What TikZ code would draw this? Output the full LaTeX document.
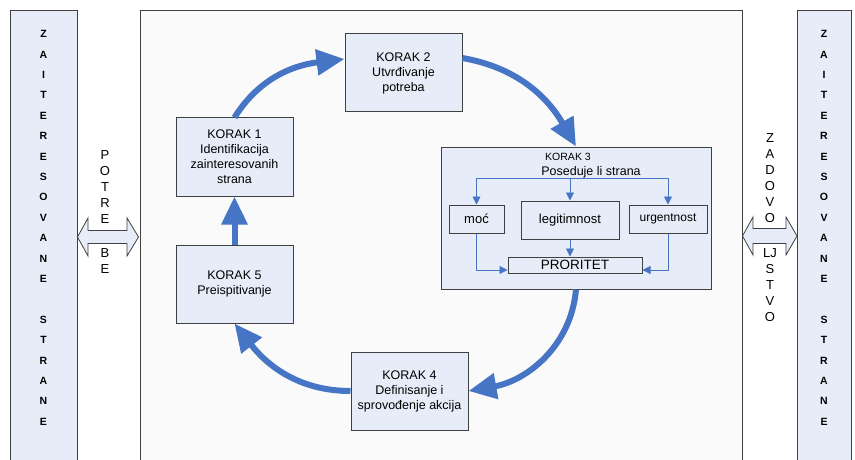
\documentclass[tikz,border=0pt]{standalone}
\usepackage{fontspec}
\setmainfont{Liberation Sans}
\usetikzlibrary{arrows.meta}

\definecolor{flowblue}{RGB}{69,117,196}
\definecolor{boxfill}{RGB}{231,237,248}
\definecolor{panelfill}{RGB}{250,250,250}
\definecolor{edgegray}{RGB}{64,64,64}

\begin{document}
\begin{tikzpicture}[x=1pt,y=-1pt,
	korak/.style={draw=edgegray,fill=boxfill,line width=1pt,minimum width=117pt,minimum height=78pt,inner sep=0pt,align=center,font=\fontsize{12.5}{15}\selectfont},
	inbox/.style={draw=edgegray,fill=boxfill,line width=1pt,inner sep=0pt,font=\fontsize{13}{15}\selectfont},
	colletter/.style={inner sep=0pt,font=\fontsize{10.5}{12}\selectfont\bfseries},
	sideletter/.style={inner sep=0pt,font=\fontsize{13}{15}\selectfont},
	bigarrow/.style={draw=flowblue,line width=6pt,-{Triangle[length=28pt,width=25pt]}},
	thinarrow/.style={draw=flowblue,line width=0.8pt,-{Triangle[length=8pt,width=8pt]}},
	bothway/.style={draw=edgegray,fill=boxfill,line width=0.8pt}]
\useasboundingbox (0,0) rectangle (855,460);
\clip (0,0) rectangle (855,460);

\draw[edgegray,fill=boxfill] (10,10) rectangle (77,470);
\draw[edgegray,fill=boxfill] (797,10) rectangle (851,470);
\draw[edgegray,fill=panelfill] (140,10) rectangle (742,470);

\foreach \ch [count=\i] in {Z,A,I,T,E,R,E,S,O,V,A,N,E,{},S,T,R,A,N,E}
	\node[colletter] (lz\i) at (43.5,{34+20.4*(\i-1)}) {\ch};
\foreach \ch [count=\i] in {Z,A,I,T,E,R,E,S,O,V,A,N,E,{},S,T,R,A,N,E}
	\node[colletter] (rz\i) at (824,{34+20.4*(\i-1)}) {\ch};

\draw[bothway] (77.5,237) -- (88,218) -- (88,230.5) -- (127,230.5) -- (127,218) -- (138.5,237)
	-- (127,256) -- (127,243.5) -- (88,243.5) -- (88,256) -- cycle;
\draw[bothway] (742.5,236) -- (753,217) -- (753,228.5) -- (786,228.5) -- (786,217) -- (797,236)
	-- (786,255) -- (786,243.5) -- (753,243.5) -- (753,255) -- cycle;

\foreach \ch [count=\i] in {P,O,T,R,E}
	\node[sideletter] (pu\i) at (105,{155+16*(\i-1)}) {\ch};
\foreach \ch [count=\i] in {B,E}
	\node[sideletter] (pd\i) at (105,{253+16*(\i-1)}) {\ch};
\foreach \ch [count=\i] in {Z,A,D,O,V,O}
	\node[sideletter] (zu\i) at (770,{138+16*(\i-1)}) {\ch};
\foreach \ch [count=\i] in {LJ,S,T,V,O}
	\node[sideletter] (zd\i) at (770,{253+16*(\i-1)}) {\ch};

\node[korak] (k1) at (234.5,157) {KORAK 1\\Identifikacija\\zainteresovanih\\strana};
\node[korak] (k2) at (403.5,73) {KORAK 2\\Utvrđivanje\\potreba};
\node[korak] (k5) at (234.5,284) {KORAK 5\\Preispitivanje};
\node[korak] (k4) at (409.5,391) {KORAK 4\\Definisanje i\\sprovođenje akcija};

\node[inbox,minimum width=270pt,minimum height=142pt] (k3) at (576,218) {};
\node[inner sep=0pt,font=\fontsize{10.5}{12}\selectfont] (k3title) at (568,157) {KORAK 3};
\node[inner sep=0pt,font=\fontsize{12.5}{15}\selectfont] (k3sub) at (591,172) {Poseduje li strana};
\node[inbox,minimum width=55pt,minimum height=28pt] (moc) at (476.5,219) {moć};
\node[inbox,minimum width=98pt,minimum height=38pt] (legit) at (570,220) {legitimnost};
\node[inbox,minimum width=78pt,minimum height=28pt,font=\fontsize{12}{14}\selectfont] (urg) at (668,219) {urgentnost};
\node[inbox,minimum width=134pt,minimum height=16pt,font=\fontsize{13.5}{15}\selectfont] (prio) at (575,265) {PRORITET};

\coordinate (split) at (570,178);
\draw[thinarrow] (split) -| (moc);
\draw[thinarrow] (split) -| (urg);
\draw[thinarrow] (split) -- (legit);
\draw[thinarrow] (legit.south) -- (legit.south |- prio.north);
\draw[thinarrow] (moc.south) |- ([yshift=-5pt]prio.west);
\draw[thinarrow] (urg.south) |- ([yshift=-5pt]prio.east);

\draw[bigarrow] (k1.north) to[out=58,in=187] ([yshift=14pt]k2.west);
\draw[bigarrow] ([yshift=15pt]k2.east) to[out=-10,in=120] (k3.north);
\draw[bigarrow] (k3.south) to[out=-95,in=10] (k4.east);
\draw[bigarrow] (k4.west) to[out=180,in=-52] (k5.south);
\draw[bigarrow] (k5.north) -- (k1.south);
\end{tikzpicture}
\end{document}
